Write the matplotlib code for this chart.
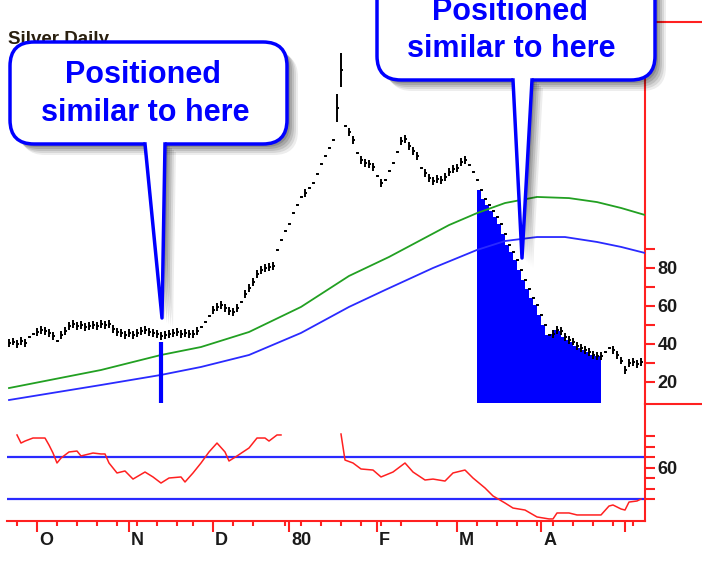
import numpy as np
import matplotlib
matplotlib.use("Agg")
from matplotlib import pyplot
from matplotlib.patches import FancyBboxPatch, Polygon

pyplot.rcParams["font.family"] = ["Liberation Sans", "DejaVu Sans"]

# trading-day index 0 = first trading day of October 1979
first_day = -7
closes = [
    40.5, 41.1, 40.0, 41.6, 40.5, 43.7, 45.3,                    # -7 .. -1
    46.3, 47.4, 46.8, 45.8, 44.2, 41.6, 44.7, 46.8, 49.5, 50.5,  # 0 .. 9
    49.5, 50.0, 48.9, 49.5, 50.0, 49.5, 50.5, 50.0, 50.5, 47.9,  # 10 .. 19
    46.3, 45.8, 44.7, 45.8, 44.7, 45.8, 46.8, 47.4, 46.3, 45.8,  # 20 .. 29
    45.3, 44.2, 44.7, 45.3, 45.8, 46.3, 45.3, 45.8, 45.3, 45.3,  # 30 .. 39
    46.8, 48.9, 51.6, 54.7, 57.9, 59.5, 60.5, 58.9, 57.4, 56.8,  # 40 .. 49
    58.9, 62.1, 66.3, 69.5, 72.6, 76.8, 78.9, 80.0, 80.5, 81.0,  # 50 .. 59
    89.5, 94.7, 99.5, 103.2, 109.0, 113.2, 117.4, 119.5, 122.1, 124.7,  # 60 .. 69
    129.5, 134.7, 138.9, 143.2, 147.4, 164.2, 184.2, 154.7, 151.6, 147.4,  # 70 .. 79
    140.5, 136.8, 135.3, 134.7, 133.2, 128.4, 124.7, 126.3, 131.1, 135.3,  # 80 .. 89
    141.1, 146.8, 147.9, 144.2, 141.6, 138.9, 132.6, 130.0, 127.4, 125.8,  # 90 .. 99
    126.8, 126.3, 127.9, 130.5, 132.1, 132.6, 135.8, 136.8, 134.2, 130.5,  # 100 .. 109
    126.3, 121.0, 116.3, 113.2, 110.0, 106.8, 103.2, 97.9, 92.1, 88.4,  # 110 .. 119
    84.2, 78.9, 73.7, 68.9, 64.2, 60.5, 55.3, 50.0, 44.7, 45.3,  # 120 .. 129
    47.4, 46.8, 43.7, 42.1, 41.1, 38.9, 37.9, 36.8, 35.8, 34.2,  # 130 .. 139
    33.7, 33.7, 35.8, 37.9, 36.8, 34.2, 31.1, 26.3, 30.0, 30.5,  # 140 .. 149
    29.5, 30.5,                                                  # 150 .. 151
]
typical_range = 3.8
limit_range = 0.9
limit_days = [-2, -1, 5, 41, 42, 43, 51, 60, 61, 62, 63, 64, 65, 66, 68, 69, 70,
              71, 72, 73, 74, 77, 80, 85, 87, 88, 89, 90, 96, 108, 109, 110,
              111, 112, 113, 114, 115, 116, 117, 118, 119, 120, 121, 122, 123,
              124, 125, 126, 127, 128, 142, 143]
wide_bars = {75: 15.0, 76: 18.0}

fill_start, fill_end = 110, 141
fill_floor = 9.0
marker_day = 31
marker_top = 41.0

ma_days = [-7, 16, 31, 41, 53, 66, 78, 88, 103, 110, 117, 121, 125, 133, 140, 146, 152]
green_ma = [16.8, 26.3, 34.2, 38.4, 46.3, 59.5, 75.8, 85.8, 102.6, 108.9, 114.2,
            115.8, 117.4, 116.8, 114.7, 111.6, 107.9]
blue_ma_days = [-7, 16, 31, 41, 53, 66, 78, 87, 99, 110, 117, 125, 132, 140, 146, 152]
blue_ma = [10.5, 18.4, 23.7, 27.9, 34.2, 45.8, 59.5, 68.4, 80.0, 89.5, 94.2,
           96.3, 96.3, 93.7, 91.1, 87.9]

rsi_days = [-5, -4, -3, -1, 2, 3, 4, 5, 6, 8, 10, 11, 14, 16, 17, 18, 20, 22, 24,
            27, 29, 31, 33, 36, 37, 39, 41, 43, 45, 47, 48, 50, 53, 55, 57, 58,
            59, 60, 61, 68,
            76, 77, 79, 81, 84, 86, 89, 92, 94, 97, 99, 102, 104, 107, 109, 112,
            114, 117, 119, 122, 125, 128, 129, 130, 133, 135, 141, 143, 144, 146,
            147, 148, 150, 151]
rsi_values = [91.0, 83.3, 85.2, 88.1, 88.1, 81.4, 73.8, 64.3, 69.0, 74.8, 75.7,
              71.0, 73.8, 72.9, 72.9, 64.3, 54.8, 56.7, 49.0, 55.7, 51.0, 45.2,
              50.0, 51.0, 46.2, 54.8, 64.3, 74.8, 83.3, 74.8, 66.2, 71.0, 78.6,
              88.1, 88.1, 85.2, 88.1, 91.0, 91.0, np.nan,
              91.9, 67.1, 64.3, 58.6, 57.6, 51.0, 55.7, 64.3, 55.7, 48.1, 49.0,
              47.1, 54.8, 57.6, 50.0, 40.5, 32.9, 26.2, 21.4, 19.5, 12.9, 11.0,
              11.0, 16.7, 16.7, 14.8, 14.8, 23.3, 24.3, 20.5, 19.5, 27.1, 28.1,
              30.0]
rsi_levels = [70, 30]

month_days = [0, 23, 44, 63, 85, 105, 126, 147]
month_labels = ["O", "N", "D", "80", "F", "M", "A", ""]
week_days = [-5, 5, 10, 15, 20, 25, 30, 35, 39, 49, 54, 62, 66, 71, 76, 81, 86,
             91, 100, 110, 115, 120, 125, 129, 134, 139, 144, 149]

price_ticks = [20, 30, 40, 50, 60, 70, 80, 90]
price_labels = ["20", "", "40", "", "60", "", "80", ""]
rsi_ticks = [30, 40, 50, 60, 70, 80, 90]
rsi_labels = ["", "", "", "60", "", "", ""]

RED = "#ff2020"
BLUE = "#0000ff"
W, H = 702, 561


def fig_rect(left, top, right, bottom):
    return [left / W, 1 - bottom / H, (right - left) / W, (bottom - top) / H]


def callout(ax, left, top, right, bottom, base, tip, lines):
    radius = 24
    for k, alpha in [(11, 0.07), (9, 0.09), (7, 0.11), (5, 0.13), (3, 0.15)]:
        ax.add_patch(FancyBboxPatch(
            (left + k, top + k), right - left, bottom - top,
            boxstyle=f"round,pad=0,rounding_size={radius}",
            fc="black", ec="none", alpha=alpha, zorder=5))
        ax.add_patch(Polygon(
            [(base[0] + k, bottom + k - 3), (tip[0] + k, tip[1] + k),
             (base[1] + k, bottom + k - 3)],
            fc="black", ec="none", alpha=alpha, zorder=5))
    ax.add_patch(FancyBboxPatch(
        (left, top), right - left, bottom - top,
        boxstyle=f"round,pad=0,rounding_size={radius}",
        fc="white", ec=BLUE, lw=2.5, zorder=6))
    ax.add_patch(Polygon(
        [(base[0], bottom - 3), (base[0], bottom), tip, (base[1], bottom),
         (base[1], bottom - 3)],
        fc="white", ec="none", zorder=7))
    ax.plot([base[0], tip[0], base[1]], [bottom, tip[1], bottom],
            color=BLUE, lw=2.5, zorder=8)
    for text, x, y in lines:
        ax.text(x, y, text, ha="center", va="baseline", fontsize=22,
                fontweight="bold", color=BLUE, zorder=9)


def main():
    days = np.arange(first_day, first_day + len(closes))
    close = np.array(closes)
    ranges = np.full(len(close), typical_range)
    ranges[np.isin(days, limit_days)] = limit_range
    for day, width in wide_bars.items():
        ranges[days == day] = width

    figure = pyplot.figure(figsize=(W / 100, H / 100), dpi=100)

    upper = figure.add_axes(fig_rect(7, 22, 645, 404))
    lower = figure.add_axes(fig_rect(7, 404, 645, 521))
    for axis in (upper, lower):
        axis.set_xlim(-7.5, 152)
        axis.patch.set_visible(False)
        for side in ("top", "left", "bottom"):
            axis.spines[side].set_visible(False)
        axis.spines["right"].set_color(RED)
        axis.spines["right"].set_linewidth(1.5)
        axis.yaxis.tick_right()
        axis.tick_params(axis="y", color=RED, width=1.5, length=7, pad=2,
                         labelsize=13, labelcolor="#1a1a1a")

    # upper panel: price bars, averages, shaded decline
    upper.set_ylim(8.4, 209.5)
    upper.set_xticks([])
    upper.set_yticks(price_ticks)
    upper.set_yticklabels(price_labels, fontweight="bold")

    in_fill = (days >= fill_start) & (days <= fill_end)
    upper.fill_between(days[in_fill], fill_floor, close[in_fill], step="pre",
                       color=BLUE, lw=0, zorder=2)
    upper.plot(ma_days, green_ma, color="#22a022", lw=1.3, zorder=3)
    upper.plot(blue_ma_days, blue_ma, color="#2a2aff", lw=1.3, zorder=3)
    upper.vlines(days, close - ranges / 2, close + ranges / 2, color="black",
                 lw=1.4, zorder=4)
    upper.hlines(close, days, days + 0.55, color="black", lw=1.4, zorder=4)
    upper.vlines([marker_day], fill_floor, marker_top, color=BLUE, lw=3,
                 zorder=4)

    # lower panel: oscillator
    lower.set_ylim(9.05, 120.5)
    lower.spines["bottom"].set_visible(True)
    lower.spines["bottom"].set_color(RED)
    lower.spines["bottom"].set_linewidth(1.5)
    lower.set_yticks(rsi_ticks)
    lower.set_yticklabels(rsi_labels, fontweight="bold")
    for level in rsi_levels:
        lower.axhline(level, color="#2a2aff", lw=1.6, zorder=2)
    lower.plot(rsi_days, rsi_values, color=RED, lw=1.1, zorder=3)

    lower.set_xticks(month_days)
    lower.set_xticklabels([])
    lower.set_xticks(week_days, minor=True)
    lower.tick_params(axis="x", which="major", color=RED, width=1.5, length=8)
    lower.tick_params(axis="x", which="minor", color=RED, width=1.5, length=3.8)
    for day, label in zip(month_days, month_labels):
        lower.annotate(label, xy=(day, 0), xycoords=("data", "axes fraction"),
                       xytext=(1.5, -14), textcoords="offset points",
                       ha="left", va="center", fontsize=13,
                       fontweight="bold", color="#1a1a1a")

    # overlay in pixel coordinates for frame bits and callouts
    overlay = figure.add_axes([0, 0, 1, 1])
    overlay.set_xlim(0, W)
    overlay.set_ylim(H, 0)
    overlay.axis("off")
    overlay.plot([645, W], [22, 22], color=RED, lw=1.5)
    overlay.plot([645, W], [404, 404], color=RED, lw=1.5)
    overlay.text(8, 44, "Silver Daily", fontsize=13.5, fontweight="bold",
                 color="#2a2010", va="baseline", zorder=2)

    callout(overlay, 10, 42, 287, 144, (145, 165), (162, 318),
            [("Positioned", 143, 83), ("similar to here", 145, 121)])
    callout(overlay, 377, -40, 655, 80, (513, 532), (522, 258),
            [("Positioned", 510, 20), ("similar to here", 511, 57)])

    figure.savefig("out.png", dpi=100)


if __name__ == "__main__":
    main()
